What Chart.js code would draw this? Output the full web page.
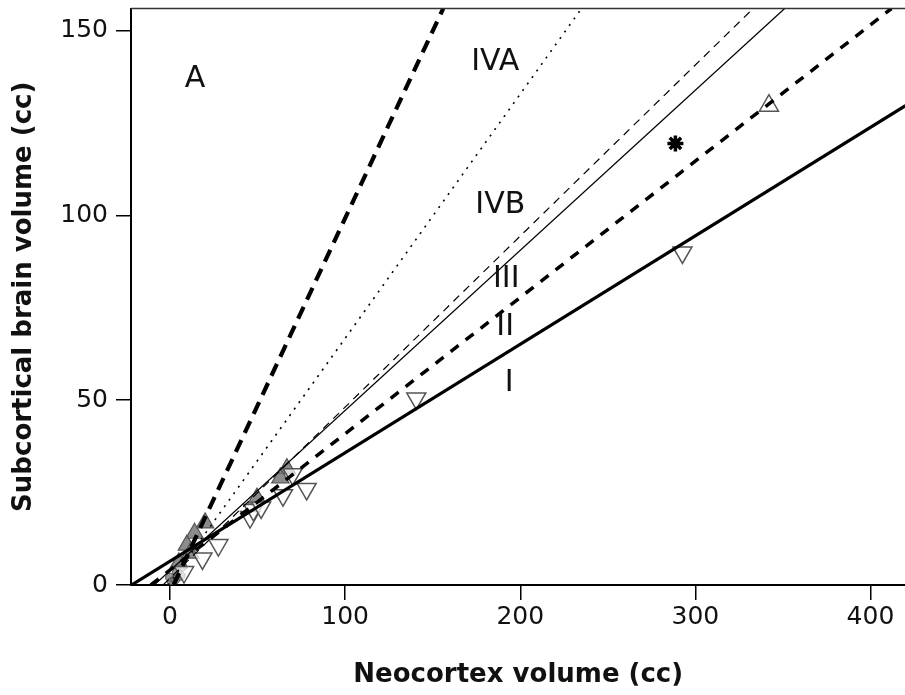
<!DOCTYPE html>
<html>
<head>
<meta charset="utf-8">
<script src="https://cdn.jsdelivr.net/npm/chart.js@4.4.1/dist/chart.umd.min.js"></script>
<style>
  html, body { margin: 0; padding: 0; background: #fff; overflow: hidden; }
  #wrap { width: 905px; height: 695px; overflow: hidden; position: relative; }
  #chart { position: absolute; left: 0; top: -4px; }
</style>
</head>
<body>
<div id="wrap"><canvas id="chart" width="918" height="699"></canvas></div>
<script>
// tick labels
const xTicks = [0, 100, 200, 300, 400];
const yTicks = [0, 50, 100, 150];

// regression lines (end points)
const lineI_x = [-22, 420],  lineI_y = [0, 129.7];
const lineII_x = [-11, 412], lineII_y = [0, 156];
const lineIII_x = [-9, 351], lineIII_y = [0, 156];
const lineIVB_x = [-4, 333], lineIVB_y = [0, 156];
const lineIVA_x = [-1, 235], lineIVA_y = [0, 156];
const lineA_x = [2, 156],    lineA_y = [0, 156];

// species points
const openDownX = [140.6, 292.6, 78, 64.5, 70, 45.7, 47.6, 52, 27.6, 18.5, 8];
const openDownY = [50.5, 90, 26, 24.3, 30, 18.4, 20.3, 21, 10.8, 7.2, 3.5];
const grayUpX = [66.7, 63, 49.6, 20, 14, 9.6, 11.5, 5];
const grayUpY = [31.5, 29, 23.5, 16.8, 14, 10.8, 8.6, 6];
const openUpX = [342];
const openUpY = [129.7];
const starX = [288.6];
const starY = [119.5];
const circleX = [0, 4, 7, 1, 3, 6];
const circleY = [2, 3.5, 5, 0.8, 1.5, 2.5];

// group labels
const groupNames = ['A', 'IVA', 'IVB', 'III', 'II', 'I'];
const groupX = [14.3, 185.7, 188.6, 192, 191.4, 193.7];
const groupY = [136.8, 141.4, 102.7, 82.7, 69.7, 54.6];

function pts(xs, ys){ return xs.map((x,i)=>({x, y: ys[i]})); }

function lineSet(xs, ys, width, dash){
  return { type:'line', data: pts(xs, ys), borderColor:'#000', borderWidth: width,
    borderDash: dash, pointRadius: 0, fill: false, tension: 0, order: 0 };
}

const FONT = '"DejaVu Sans", "Open Sans", sans-serif';

const groupLabels = {
  id: 'groupLabels',
  afterDatasetsDraw(chart){
    const {ctx, scales:{x, y}, chartArea} = chart;
    ctx.save();
    // top frame line
    ctx.strokeStyle = '#333'; ctx.lineWidth = 1.5;
    ctx.beginPath(); ctx.moveTo(chartArea.left, chartArea.top); ctx.lineTo(chartArea.right, chartArea.top); ctx.stroke();
    ctx.fillStyle = '#111';
    ctx.font = '30px ' + FONT;
    ctx.textAlign = 'center'; ctx.textBaseline = 'middle';
    groupNames.forEach((t,i)=>{ ctx.fillText(t, x.getPixelForValue(groupX[i]), y.getPixelForValue(groupY[i])); });
    ctx.restore();
  }
};

new Chart(document.getElementById('chart').getContext('2d'), {
  type: 'scatter',
  data: {
    datasets: [
      lineSet(lineI_x, lineI_y, 3.2, []),
      lineSet(lineII_x, lineII_y, 3.5, [10, 9]),
      lineSet(lineIII_x, lineIII_y, 1.2, []),
      lineSet(lineIVB_x, lineIVB_y, 1.2, [8, 6]),
      lineSet(lineIVA_x, lineIVA_y, 1.6, [2, 6]),
      lineSet(lineA_x, lineA_y, 4.2, [13, 8]),
      { data: pts(openDownX, openDownY), pointStyle:'triangle', rotation:180, pointRadius: 11,
        backgroundColor:'rgba(255,255,255,0.7)', borderColor:'#555', borderWidth:1.5, order: 1 },
      { data: pts(grayUpX, grayUpY), pointStyle:'triangle', pointRadius: 10,
        backgroundColor:'rgba(120,120,120,0.85)', borderColor:'#555', borderWidth:1.2, order: 1 },
      { data: pts(openUpX, openUpY), pointStyle:'triangle', pointRadius: 11,
        backgroundColor:'rgba(255,255,255,0.6)', borderColor:'#555', borderWidth:1.5, order: 1 },
      { data: pts(starX, starY), pointStyle:'star', pointRadius: 8,
        borderColor:'#000', borderWidth:3.5, order: 1 },
      { data: pts(circleX, circleY), pointStyle:'circle', pointRadius: 4.5,
        backgroundColor:'rgba(110,110,110,0.7)', borderColor:'#555', borderWidth:1, order: 1 }
    ]
  },
  options: {
    responsive: false,
    animation: false,
    clip: 0,
    layout: { padding: 0 },
    plugins: { legend: { display: false }, tooltip: { enabled: false } },
    scales: {
      x: {
        type: 'linear', min: -22.3, max: 420,
        afterBuildTicks: s => { s.ticks = xTicks.map(v => ({value: v})); },
        afterFit: s => { s.height = 110; s.paddingLeft = 0; s.paddingRight = 0; },
        grid: { drawOnChartArea: false, drawTicks: true, tickLength: 15, color: '#000', lineWidth: 1.5 },
        border: { display: true, color: '#000', width: 2 },
        ticks: { color: '#111', font: { family: FONT, size: 25 }, padding: 2 },
        title: { display: true, text: 'Neocortex volume (cc)', color: '#111',
          font: { family: FONT, size: 26, weight: 'bold' }, padding: { top: 0, bottom: 4 } }
      },
      y: {
        type: 'linear', min: 0, max: 156,
        afterBuildTicks: s => { s.ticks = yTicks.map(v => ({value: v})); },
        afterFit: s => { s.width = 131; s.paddingTop = 0; s.paddingBottom = 0; },
        grid: { drawOnChartArea: false, drawTicks: true, tickLength: 15, color: '#000', lineWidth: 1.5 },
        border: { display: true, color: '#000', width: 2 },
        ticks: { color: '#111', font: { family: FONT, size: 25 }, padding: 8 },
        title: { display: true, text: 'Subcortical brain volume (cc)', color: '#111',
          font: { family: FONT, size: 26, weight: 'bold' }, padding: { top: 9, bottom: 0 } }
      }
    }
  },
  plugins: [groupLabels]
});
</script>
</body>
</html>
